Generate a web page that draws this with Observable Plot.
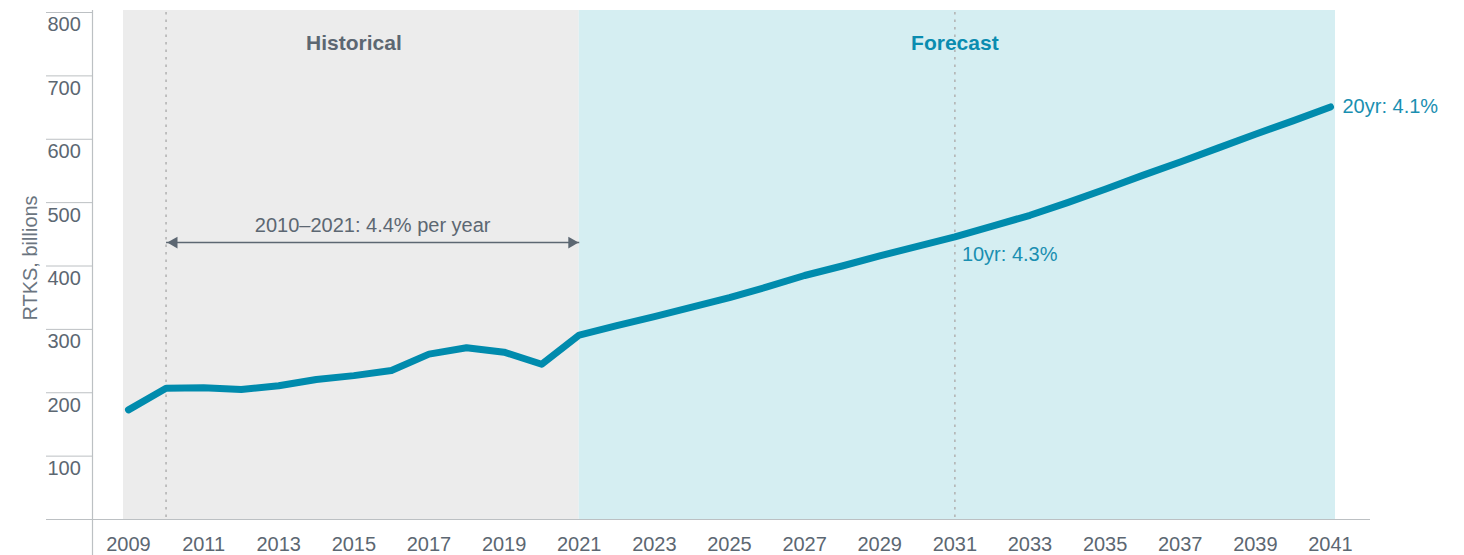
<!DOCTYPE html>
<html>
<head>
<meta charset="utf-8">
<script src="https://cdn.jsdelivr.net/npm/d3@7"></script>
<script src="https://cdn.jsdelivr.net/npm/@observablehq/plot@0.6"></script>
<style>
  html, body { margin: 0; padding: 0; background: #ffffff; }
  #chart svg { display: block; }
</style>
</head>
<body>
<div id="chart"></div>
<script>
// ---- Data ----
const years = [2009, 2010, 2011, 2012, 2013, 2014, 2015, 2016, 2017, 2018, 2019, 2020, 2021,
  2022, 2023, 2024, 2025, 2026, 2027, 2028, 2029, 2030, 2031,
  2032, 2033, 2034, 2035, 2036, 2037, 2038, 2039, 2040, 2041];
const rtks = [173, 207, 208, 205, 211, 221, 227, 235, 261, 271, 264, 245, 291,
  306, 320, 335, 350, 367, 385, 400, 416, 431, 446,
  463, 480, 500, 521, 543, 564, 586, 608, 629, 651];

const yTicks = [0, 100, 200, 300, 400, 500, 600, 700, 800];
const xTicks = [2009, 2011, 2013, 2015, 2017, 2019, 2021, 2023, 2025, 2027, 2029, 2031, 2033, 2035, 2037, 2039, 2041];

const periodNames = ["Historical", "Forecast"];
const periodStart = [2009, 2021];
const periodEnd = [2021, 2041];
const referenceYears = [2010, 2031];

const cagrLabel = "2010–2021: 4.4% per year";
const cagrFrom = 2010, cagrTo = 2021, cagrLevel = 437;
const growthLabels = ["10yr: 4.3%", "20yr: 4.1%"];
const growthYears = [2031, 2041];
const yLabel = "RTKS, billions";

// ---- Derived tables ----
const series = years.map((year, i) => ({year, value: rtks[i]}));
const periods = periodNames.map((name, i) => ({name, start: periodStart[i], end: periodEnd[i]}));
const valueAt = y => rtks[years.indexOf(y)];
const growth = growthLabels.map((text, i) => ({text, year: growthYears[i], value: valueAt(growthYears[i])}));
const arrow = [{x1: cagrFrom, x2: cagrTo, y: cagrLevel}];

const textGrey = "#5c6772";
const axisGrey = "#bcc0c3";
const teal = "#008bad";
const font = "'Liberation Sans', Arial, Helvetica, sans-serif";

const chart = Plot.plot({
  width: 1464,
  height: 555,
  marginLeft: 92,
  marginRight: 94,
  marginTop: 12,
  marginBottom: 36,
  x: {domain: [2009, 2041], range: [128, 1330]},
  y: {domain: [0, 800], range: [519, 12]},
  style: {fontFamily: font, fontSize: "20px", color: textGrey, background: "#ffffff", overflow: "visible"},
  marks: [
    // shaded periods
    Plot.rect([periods[0]], {x1: "start", x2: "end", y1: 0, y2: 800, fill: "#ececec", insetLeft: -5, insetTop: -2}),
    Plot.rect([periods[1]], {x1: "start", x2: "end", y1: 0, y2: 800, fill: "#d5eef2", insetRight: -5, insetTop: -2}),
    // dotted reference lines
    Plot.ruleX(referenceYears, {y1: 0, y2: 800, stroke: "#b4b4b4", strokeWidth: 1.6, strokeDasharray: "2.5,5", insetTop: -2}),
    // y axis: tick lines, then labels sitting below each tick line
    Plot.axisY({ticks: yTicks, tickSize: 46, tickFormat: () => "", stroke: axisGrey, label: null}),
    Plot.axisY({ticks: yTicks, tickSize: 0, tickPadding: 45, textAnchor: "start", dy: 12.5,
      tickFormat: d => d === 0 ? "" : String(d), fill: textGrey, fontSize: 20, label: null}),
    // x axis labels
    Plot.axisX({ticks: xTicks, tickSize: 0, tickPadding: 17, tickFormat: d => String(d),
      fill: textGrey, fontSize: 20, label: null}),
    Plot.ruleY([0], {stroke: axisGrey, strokeWidth: 1.2}),
    Plot.frame({anchor: "left", stroke: axisGrey, strokeWidth: 1.2, insetBottom: -36, insetTop: -2}),
    // period labels
    Plot.text([periods[0]], {x: d => (d.start + d.end) / 2, frameAnchor: "top", lineAnchor: "middle", dy: 31, text: "name",
      fill: textGrey, fontWeight: "bold", fontSize: 21}),
    Plot.text([periods[1]], {x: d => (d.start + d.end) / 2, frameAnchor: "top", lineAnchor: "middle", dy: 31, text: "name",
      fill: "#0a8cb0", fontWeight: "bold", fontSize: 21}),
    // CAGR arrow
    Plot.link(arrow, {x1: "x1", x2: "x2", y1: "y", y2: "y", stroke: textGrey, strokeWidth: 1.6}),
    Plot.dot(arrow, {x: "x1", y: "y", symbol: "triangle", r: 4.4, rotate: -90, dx: 8, fill: textGrey, stroke: "none"}),
    Plot.dot(arrow, {x: "x2", y: "y", symbol: "triangle", r: 4.4, rotate: 90, dx: -7.5, fill: textGrey, stroke: "none"}),
    Plot.text(arrow, {x: d => (d.x1 + d.x2) / 2, y: "y", dy: -17, text: () => cagrLabel, fill: textGrey, fontSize: 20}),
    // the series
    Plot.line(series, {x: "year", y: "value", stroke: teal, strokeWidth: 7, strokeLinecap: "round", strokeLinejoin: "round"}),
    // growth labels
    Plot.text([growth[0]], {x: "year", y: "value", text: "text", textAnchor: "start", dx: 7, dy: 18, fill: "#1a8fb1", fontSize: 20}),
    Plot.text([growth[1]], {x: "year", y: "value", text: "text", textAnchor: "start", dx: 12, dy: 0, fill: "#1a8fb1", fontSize: 20}),
    // y label
    Plot.text([yLabel], {frameAnchor: "left", text: d => d, rotate: -90, textAnchor: "middle", dx: -62, dy: -8,
      fill: "#6b7580", fontSize: 20})
  ]
});
document.getElementById("chart").appendChild(chart);
</script>
</body>
</html>
